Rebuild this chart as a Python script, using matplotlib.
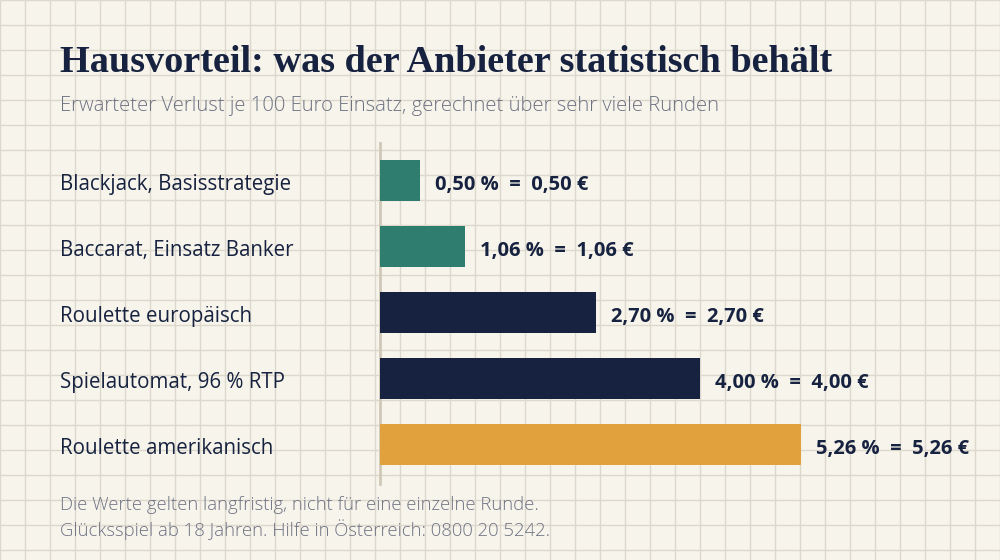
import matplotlib
matplotlib.use("Agg")
import matplotlib.pyplot as plt
import matplotlib.transforms as mtrans

# data
games = ["Blackjack, Basisstrategie", "Baccarat, Einsatz Banker", "Roulette europäisch",
         "Spielautomat, 96 % RTP", "Roulette amerikanisch"]
edge = [0.50, 1.06, 2.70, 4.00, 5.26]          # Hausvorteil in %
colors = ["#2e7d6f", "#2e7d6f", "#16223f", "#16223f", "#e1a23d"]

title = "Hausvorteil: was der Anbieter statistisch behält"
subtitle = "Erwarteter Verlust je 100 Euro Einsatz, gerechnet über sehr viele Runden"
notes = ["Die Werte gelten langfristig, nicht für eine einzelne Runde.",
         "Glücksspiel ab 18 Jahren. Hilfe in Österreich: 0800 20 5242."]

bg, gridc, navy, grey = "#f7f4ec", "#ddd8cb", "#16223f", "#6d7282"

fig = plt.figure(figsize=(10, 5.6), dpi=100, facecolor=bg)

# squared paper background
bgax = fig.add_axes([0, 0, 1, 1], zorder=0)
bgax.set_facecolor(bg)
bgax.set_xlim(0, 1000); bgax.set_ylim(560, 0)
bgax.vlines(range(0, 1001, 25), 0, 560, color=gridc, lw=1)
bgax.hlines(range(0, 561, 25), 0, 1000, color=gridc, lw=1)
bgax.axis("off")

ax = fig.add_axes([0.38, 0.1475, 0.62, 0.5893], zorder=1)
ax.patch.set_alpha(0)
ypos = list(range(len(games)))
ax.barh(ypos, edge, height=0.61, color=colors, zorder=3)
ax.set_xlim(0, 7.75)
ax.set_ylim(4.5, -0.5)
ax.axis("off")
ax.plot([0, 0], [-0.57, 4.6], color="#cfc8b8", lw=2, clip_on=False, zorder=2)

for y, v in zip(ypos, edge):
    s = f"{v:.2f}".replace(".", ",")
    ax.annotate(f"{s} %  =  {s} €", (v, y), xytext=(11, -3), textcoords="offset points",
                ha="left", va="center", fontsize=14.5, fontweight="bold",
                color=navy, family="Open Sans")

tr = mtrans.blended_transform_factory(fig.transFigure, ax.transData)
for y, g in zip(ypos, games):
    ax.annotate(g, (0.06, y), xycoords=tr, xytext=(0, -3), textcoords="offset points",
                ha="left", va="center", fontsize=14.8,
                color=navy, family="Open Sans", fontweight="medium")

fig.text(0.06, 1 - 63 / 560, title, ha="left", va="center", fontsize=27.5,
         fontweight="bold", color=navy, family="Liberation Serif")
fig.text(0.06, 1 - 106 / 560, subtitle, ha="left", va="center", fontsize=14.6,
         fontweight="light", color=grey, family="Open Sans")
fig.text(0.06, 1 - 505 / 560, notes[0], ha="left", va="center", fontsize=13.3,
         fontweight="light", color=grey, family="Open Sans")
fig.text(0.06, 1 - 530 / 560, notes[1], ha="left", va="center", fontsize=13.3,
         fontweight="light", color=grey, family="Open Sans")

fig.savefig("out.png", dpi=100, facecolor=bg)
